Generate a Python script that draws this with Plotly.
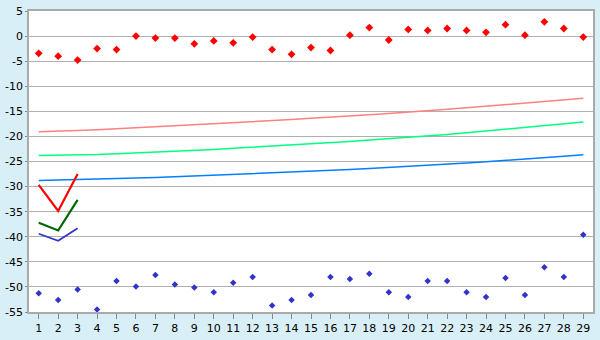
import plotly.graph_objects as go

categories = list(range(1, 30))

red_points = [-3.44, -4.0, -4.78, -2.49, -2.68, 0.0, -0.4, -0.4, -1.54, -0.97,
              -1.35, -0.2, -2.68, -3.63, -2.30, -2.87, 0.18, 1.70, -0.78, 1.32,
              1.13, 1.51, 1.13, 0.75, 2.27, 0.18, 2.84, 1.51, -0.2]

blue_points = [-51.25, -52.6, -50.5, -54.5, -48.8, -49.9, -47.6, -49.5, -50.1, -51.05,
               -49.15, -48.0, -53.7, -52.6, -51.6, -48.0, -48.4, -47.4, -51.05, -52.0,
               -48.8, -48.8, -51.05, -52.0, -48.2, -51.6, -46.1, -48.0, -39.6]

pink_line = [-19.06, -19.0, -18.8, -18.68, -18.49, -18.3, -18.1, -17.91, -17.72, -17.53,
             -17.34, -17.15, -16.9, -16.65, -16.39, -16.2, -15.95, -15.7, -15.44, -15.2,
             -14.9, -14.6, -14.3, -14.0, -13.72, -13.4, -13.1, -12.75, -12.39]

green_line = [-23.82, -23.78, -23.7, -23.6, -23.44, -23.3, -23.15, -23.0, -22.8, -22.6,
              -22.35, -22.15, -21.95, -21.75, -21.53, -21.3, -21.0, -20.7, -20.45, -20.2,
              -19.9, -19.6, -19.25, -18.9, -18.55, -18.2, -17.85, -17.5, -17.15]

blue_line = [-28.77, -28.7, -28.6, -28.5, -28.4, -28.3, -28.2, -28.05, -27.9, -27.75,
             -27.6, -27.45, -27.3, -27.15, -27.0, -26.8, -26.6, -26.4, -26.2, -25.95,
             -25.75, -25.55, -25.3, -25.05, -24.8, -24.5, -24.25, -23.95, -23.63]

v_categories = [1, 2, 3]
red_v = [-29.67, -34.87, -27.5]
green_v = [-37.2, -38.75, -32.65]
blue_v = [-39.4, -40.8, -38.3]

y_ticks = [5, 0, -5, -10, -15, -20, -25, -30, -35, -40, -45, -50, -55]

fig = go.Figure()

fig.add_trace(go.Scatter(x=categories, y=pink_line, mode="lines",
                         line=dict(color="#ff8080", width=1.5)))
fig.add_trace(go.Scatter(x=categories, y=green_line, mode="lines",
                         line=dict(color="#00ff80", width=1.5)))
fig.add_trace(go.Scatter(x=categories, y=blue_line, mode="lines",
                         line=dict(color="#0080ff", width=1.5)))

fig.add_trace(go.Scatter(x=v_categories, y=red_v, mode="lines",
                         line=dict(color="#ff0000", width=2.2)))
fig.add_trace(go.Scatter(x=v_categories, y=green_v, mode="lines",
                         line=dict(color="#006600", width=2.2)))
fig.add_trace(go.Scatter(x=v_categories, y=blue_v, mode="lines",
                         line=dict(color="#3333cc", width=1.8)))

fig.add_trace(go.Scatter(x=categories, y=red_points, mode="markers",
                         marker=dict(symbol="diamond", size=6, color="#ff0000")))
fig.add_trace(go.Scatter(x=categories, y=blue_points, mode="markers",
                         marker=dict(symbol="diamond", size=5, color="#3333cc")))

fig.update_layout(
    width=600, height=340,
    margin=dict(l=26, r=5, t=5, b=20),
    paper_bgcolor="#d9eff7",
    plot_bgcolor="#ffffff",
    showlegend=False,
    font=dict(family="DejaVu Sans", size=11, color="#000000"),
)
fig.update_xaxes(
    range=[0.5, 29.5],
    tickmode="array", tickvals=categories, ticktext=[str(c) for c in categories],
    showgrid=False, zeroline=False,
    showline=True, linecolor="#aaaaaa", linewidth=1.5, mirror=True,
    ticks="outside", ticklen=5, tickcolor="#888888",
)
fig.update_yaxes(
    range=[-55, 5],
    tickmode="array", tickvals=y_ticks, ticktext=[str(v) for v in y_ticks],
    showgrid=True, gridcolor="#b0b0b0", gridwidth=1, zeroline=False,
    showline=True, linecolor="#aaaaaa", linewidth=1.5, mirror=True,
    ticks="outside", ticklen=2, tickcolor="#888888",
)

fig.write_html("out.html")
